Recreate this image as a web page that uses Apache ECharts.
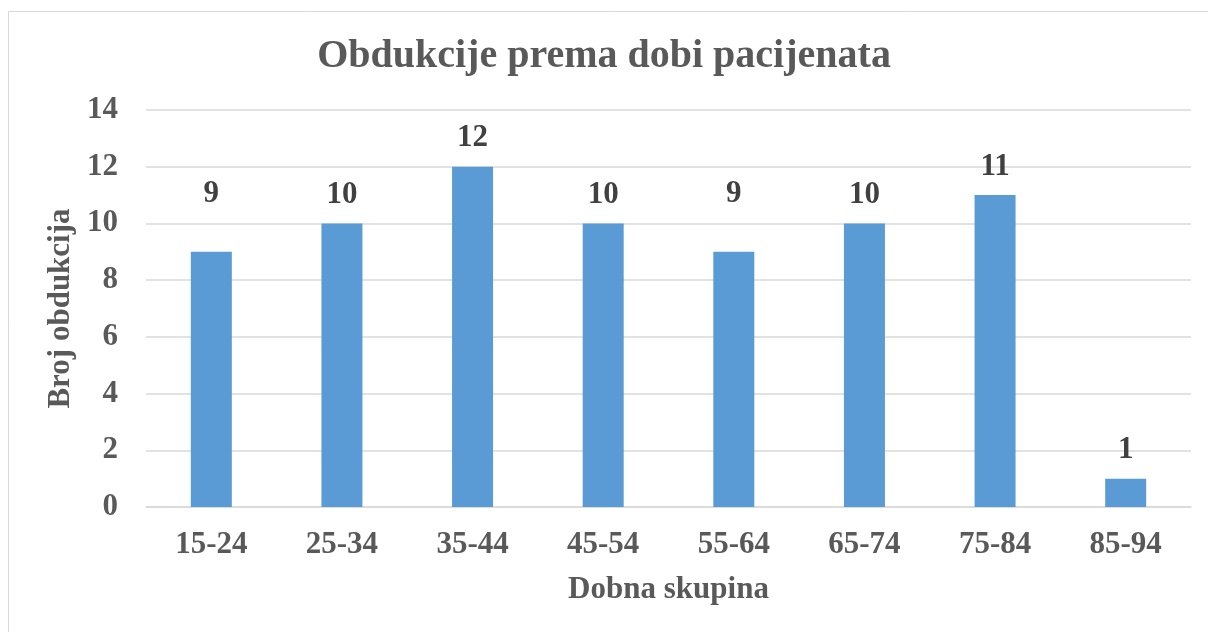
<!DOCTYPE html>
<html>
<head>
<meta charset="utf-8">
<script src="https://cdn.jsdelivr.net/npm/echarts@6/dist/echarts.min.js"></script>
<style>
html, body { margin: 0; padding: 0; background: #fff; }
#chart { width: 1208px; height: 632px; }
</style>
</head>
<body>
<div id="chart"></div>
<script>
// podaci
var dobneSkupine = ['15-24', '25-34', '35-44', '45-54', '55-64', '65-74', '75-84', '85-94'];
var brojObdukcija = [9, 10, 12, 10, 9, 10, 11, 1];

var font = '"Liberation Serif", "DejaVu Serif", serif';
// u izvorniku su oznake "9" ručno podignute na visinu oznaka "10"
var podignuteOznake = [0, 4];
var serijaPodaci = brojObdukcija.map(function (v, i) {
    if (podignuteOznake.indexOf(i) >= 0) {
        return { value: v, label: { distance: 42 } };
    }
    return v;
});

var myChart = echarts.init(document.getElementById('chart'));
myChart.setOption({
    backgroundColor: '#fff',
    animation: false,
    graphic: [{
        type: 'rect',
        shape: { x: 8.5, y: 11.5, width: 1300, height: 700 },
        style: { fill: 'none', stroke: '#d9d9d9', lineWidth: 1 }
    }],
    title: {
        text: 'Obdukcije prema dobi pacijenata',
        left: 'center',
        top: 32,
        textStyle: { fontFamily: font, fontWeight: 'bold', fontSize: 40, color: '#595959' }
    },
    grid: { left: 146, right: 17, top: 110, bottom: 125 },
    xAxis: {
        type: 'category',
        data: dobneSkupine,
        name: 'Dobna skupina',
        nameLocation: 'middle',
        nameGap: 67,
        nameTextStyle: { fontFamily: font, fontWeight: 'bold', fontSize: 31, color: '#595959' },
        axisLine: { lineStyle: { color: '#d9d9d9', width: 1.5 } },
        axisTick: { show: false },
        axisLabel: { fontFamily: font, fontWeight: 'bold', fontSize: 31, color: '#595959', margin: 22 }
    },
    yAxis: {
        type: 'value',
        min: 0,
        max: 14,
        interval: 2,
        name: 'Broj obdukcija',
        nameLocation: 'middle',
        nameGap: 66,
        nameTextStyle: { fontFamily: font, fontWeight: 'bold', fontSize: 31, color: '#595959' },
        axisLine: { show: false },
        axisTick: { show: false },
        splitLine: { lineStyle: { color: '#d9d9d9', width: 1.5 } },
        axisLabel: { fontFamily: font, fontWeight: 'bold', fontSize: 31, color: '#595959', margin: 28 }
    },
    series: [{
        type: 'bar',
        data: serijaPodaci,
        barWidth: 41,
        itemStyle: { color: '#5b9bd5' },
        label: {
            show: true,
            position: 'top',
            distance: 13,
            fontFamily: font,
            fontWeight: 'bold',
            fontSize: 31,
            color: '#404040'
        }
    }]
});
</script>
</body>
</html>
